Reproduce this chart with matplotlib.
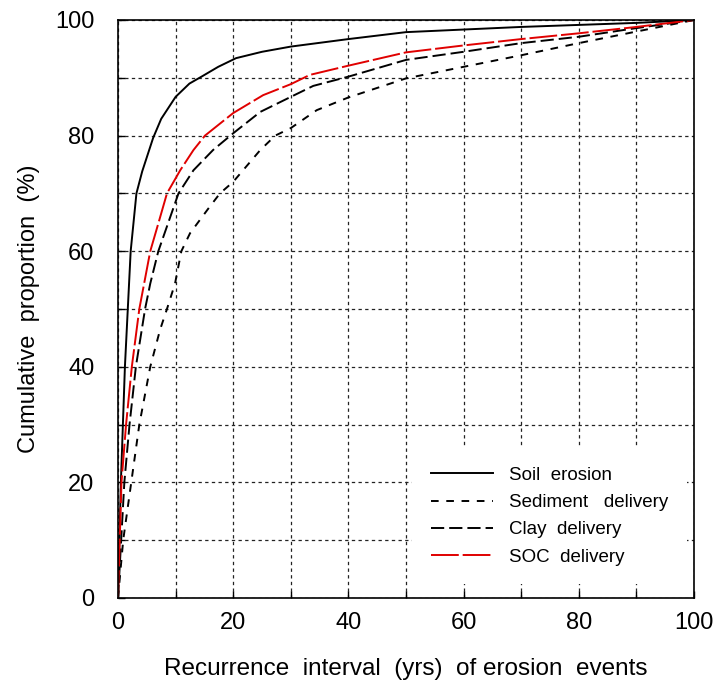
import matplotlib

matplotlib.use("Agg")
import matplotlib.pyplot as plt
import numpy as np

plt.rcParams["font.family"] = ["Liberation Sans", "DejaVu Sans"]
plt.rcParams["lines.scale_dashes"] = False

# values (recurrence interval in yrs, cumulative %)
soil_x = [0, 0.5, 1.2, 2.2, 3.2, 4.2, 6.1, 7.5, 10, 12.4, 14.5, 17.4, 20.5, 25, 30, 40, 50, 70, 90, 100]
soil_y = [0, 20, 40, 60, 70, 73.8, 79.6, 82.9, 86.7, 89, 90.2, 91.9, 93.4, 94.5, 95.4, 96.7, 97.9, 98.8, 99.5, 100]

sed_x = [0, 0.9, 2.3, 3.7, 5.6, 7.3, 8.5, 9.9, 11.0, 12.5, 15.7, 17.7, 20, 24.7, 27.3, 30, 34.5,
         40, 50, 60, 70, 80, 90, 100]
sed_y = [0, 10, 20, 30, 40, 46.4, 50, 54.4, 60, 63.1, 67.4, 70, 72, 77.5, 80, 81.3, 84.4,
         86.6, 89.9, 91.9, 93.9, 96, 98, 100]

clay_x = [0, 1.1, 2.0, 3.1, 4.7, 5.6, 7.0, 10.5, 13.1, 16.5, 20, 24.7, 30, 33.9, 40, 50, 60, 70, 80, 90, 100]
clay_y = [0, 20, 30, 40, 50, 54.4, 60, 70, 74, 77.5, 80.4, 84.1, 86.7, 88.6, 90.2, 93.1, 94.5, 96, 97.1, 98.6, 100]

soc_x = [0, 0.6, 1.4, 2.4, 3.7, 5.6, 7.0, 8.5, 10.8, 13.1, 15.1, 20, 25.2, 30, 33.3, 40, 50, 60, 70, 80, 90, 100]
soc_y = [0, 20, 30, 40, 50, 60, 64.8, 70, 74, 77.5, 80, 83.9, 87, 88.9, 90.5, 92.1, 94.4, 95.6, 96.7, 97.7, 98.8, 100]

labels = ["Soil  erosion", "Sediment   delivery", "Clay  delivery", "SOC  delivery"]

fig = plt.figure(figsize=(7.18, 6.85), dpi=100)
ax = fig.add_axes([118 / 718, 1 - 598 / 685, 576 / 718, 578 / 685])

lw = 1.4
ax.plot(soil_x, soil_y, color="black", lw=lw, label=labels[0])
ax.plot(sed_x, sed_y, color="black", lw=lw, ls=(0, (5.5, 5.5)), label=labels[1])
ax.plot(clay_x, clay_y, color="black", lw=lw, ls=(0, (9.5, 3.6)), label=labels[2])
ax.plot(soc_x, soc_y, color="#e00000", lw=lw, ls=(0, (20, 2.8)), label=labels[3])

ax.set_xlim(0, 100)
ax.set_ylim(0, 100)
ax.set_xticks(np.arange(0, 101, 20))
ax.set_yticks(np.arange(0, 101, 20))
ax.set_xticks(np.arange(10, 100, 20), minor=True)
ax.set_yticks(np.arange(10, 100, 20), minor=True)
ax.tick_params(which="both", direction="in", length=5, width=1, labelsize=17)
ax.tick_params(axis="x", pad=10)
ax.tick_params(axis="y", pad=17)
ax.grid(which="both", color="#222222", lw=0.9, ls=(0, (2.4, 2.4)))
for s in ax.spines.values():
    s.set_linewidth(1.2)

ax.set_xlabel("Recurrence  interval  (yrs)  of erosion  events", fontsize=17.5, labelpad=17)
ax.set_ylabel("Cumulative  proportion  (%)", fontsize=17, labelpad=11)

leg = ax.legend(loc="upper left", bbox_to_anchor=(294 / 576, 150 / 578), frameon=True,
                fontsize=13.5, handlelength=3.3, handletextpad=0.85, labelspacing=0.54,
                borderpad=1.0, borderaxespad=0)
leg.get_frame().set_facecolor("white")
leg.get_frame().set_edgecolor("none")
leg.get_frame().set_alpha(1)
leg.get_frame().set_boxstyle("square", pad=0)

fig.savefig("out.png", dpi=100)
